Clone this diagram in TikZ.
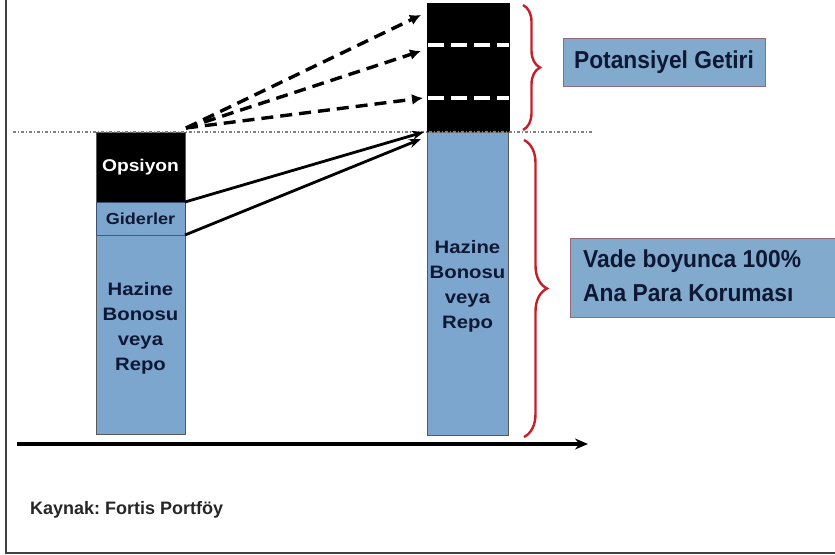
\documentclass[tikz,border=0pt]{standalone}
\usepackage{fontspec}
\setmainfont{Liberation Sans}
\newfontfamily\colf{Liberation Sans}[FakeStretch=1.13]
\newfontfamily\boxf{Liberation Sans}[FakeStretch=0.93]
\usetikzlibrary{arrows.meta,decorations.pathreplacing}
\definecolor{colblue}{RGB}{125,166,206}
\definecolor{boxblue}{RGB}{130,170,205}
\definecolor{navy}{RGB}{14,24,52}
\definecolor{bracered}{RGB}{200,30,40}
\definecolor{boxedge}{RGB}{150,105,125}
\begin{document}
\frenchspacing
\begin{tikzpicture}[x=1pt,y=-1pt,
  colbox/.style={draw=black!65, line width=0.8pt, inner sep=0pt, outer sep=0pt, anchor=north west},
  coltext/.style={text=navy, font=\colf\bfseries\fontsize{18}{25}\selectfont, align=center, inner sep=0pt},
  labelbox/.style={draw=boxedge, line width=0.7pt, fill=boxblue, inner sep=0pt, outer sep=0pt, anchor=north west},
  labeltext/.style={text=navy, font=\boxf\bfseries\fontsize{24.5}{34}\selectfont, align=left, inner sep=0pt},
  dasharrow/.style={line width=3.4pt, dash pattern=on 12pt off 7pt, -{Latex[length=11pt,width=11pt]}},
  solidarrow/.style={line width=2.8pt, -{Stealth[length=12pt,width=9pt]}},
  redbrace/.style={draw=bracered, line width=2.4pt, decorate},
  whitedash/.style={draw=white, line width=3.8pt, dash pattern=on 16pt off 7pt}
]
\useasboundingbox (0,0) rectangle (835,554);
% frame
\coordinate (ftop) at (6,0);
\coordinate (fcorner) at (6,553);
\coordinate (fright) at (835,553);
\draw[black!75, line width=1.4pt] (ftop) -- (fcorner) -- (fright);

% left column
\node[colbox, fill=black, minimum width=89pt, minimum height=70pt] (opsiyon) at (96,132) {};
\node[text=white, font=\colf\bfseries\fontsize{17}{20}\selectfont, inner sep=0pt] (opsiyont) at (opsiyon.center) {Opsiyon};
\node[colbox, fill=colblue, draw=navy!60!colblue, minimum width=89pt, minimum height=33pt] (gider) at (96,202) {};
\node[text=navy, font=\colf\bfseries\fontsize{16}{20}\selectfont, inner sep=0pt] (gidert) at (gider.center) {Giderler};
\node[colbox, fill=colblue, minimum width=89pt, minimum height=199pt] (lbono) at (96,235) {};
\node[coltext] (lbonot) at ([yshift=6pt]lbono.center) {Hazine\\Bonosu\\veya\\Repo};

% right column
\node[colbox, fill=black, draw=black, minimum width=82pt, minimum height=129pt] (getiri) at (427,3) {};
\node[colbox, fill=colblue, minimum width=81pt, minimum height=303pt] (rbono) at (427,132) {};
\node[coltext] (rbonot) at ([yshift=-3pt]rbono.center) {Hazine\\Bonosu\\veya\\Repo};
\coordinate (w1l) at (428,45);
\coordinate (w1r) at (509,45);
\coordinate (w2l) at (428,98);
\coordinate (w2r) at (509,98);
\draw[whitedash] (w1l) -- (w1r);
\draw[whitedash] (w2l) -- (w2r);

% dotted reference line
\coordinate (dl) at (13,132);
\coordinate (dr) at (592,132);
\draw[black!50, line width=1.2pt, dash pattern=on 3pt off 2pt on 1pt off 2pt] (dl) -- (dr);

% dashed arrows
\coordinate (ds) at (186,128);
\coordinate (t1) at (421,15);
\coordinate (t2) at (421,51);
\coordinate (t3) at (423,98);
\draw[dasharrow] (ds) -- (t1);
\draw[dasharrow] (ds) -- (t2);
\draw[dasharrow] (ds) -- (t3);

% solid arrows
\coordinate (s1e) at (424,132);
\coordinate (s2e) at (421,139);
\draw[solidarrow] (opsiyon.south east) -- (s1e);
\draw[solidarrow] (gider.south east) -- (s2e);

% axis
\coordinate (axl) at (17,444);
\coordinate (axr) at (588,444);
\draw[line width=3.2pt, -{Stealth[length=13pt,width=11pt]}] (axl) -- (axr);

% braces
\coordinate (b1t) at (523,5);
\coordinate (b1b) at (523,130);
\draw[redbrace, decoration={brace, amplitude=17pt}] (b1t) -- (b1b);
\coordinate (b2t) at (524,140);
\coordinate (b2b) at (524,437);
\draw[redbrace, decoration={brace, amplitude=23pt}] (b2t) -- (b2b);

% label boxes
\node[labelbox, minimum width=202pt, minimum height=48pt] (potbox) at (563,38) {};
\node[labeltext] (pott) at (potbox.center) {Potansiyel Getiri};
\node[labelbox, minimum width=268pt, minimum height=79pt] (vadebox) at (570,238) {};
\node[labeltext, anchor=west] (vadet) at ([xshift=13pt,yshift=2pt]vadebox.west) {Vade boyunca 100\%\\Ana Para Koruması};

% source
\node[text=black!85, font=\bfseries\fontsize{18}{20}\selectfont, anchor=west, inner sep=0pt] (kaynak) at (30,510) {Kaynak: Fortis Portföy};
\end{tikzpicture}
\end{document}
